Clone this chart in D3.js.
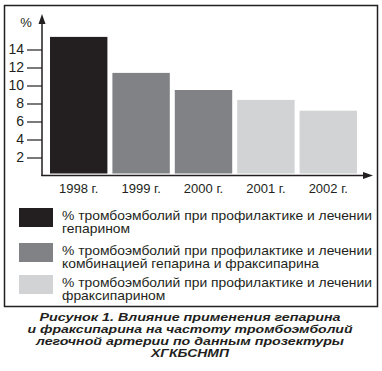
<!DOCTYPE html>
<html lang="ru">
<head>
<meta charset="UTF-8">
<title>Рисунок 1</title>
<script src="https://cdn.jsdelivr.net/npm/d3@7"></script>
<style>
  body { margin: 0; background: #fff; }
  svg text { font-family: "Liberation Sans", Arial, sans-serif; fill: #231f20; }
</style>
</head>
<body>
<svg id="chart" width="382" height="371"></svg>
<script>
// data
var years = ["1998 г.", "1999 г.", "2000 г.", "2001 г.", "2002 г."];
var values = [15.4, 11.4, 9.5, 8.4, 7.2];
var groups = [0, 1, 1, 2, 2];          // which legend entry each bar belongs to
var yTicks = [2, 4, 6, 8, 10, 12, 14];
var groupColors = ["#231f20", "#808285", "#d1d3d4"];
var legendLines = [
  ["% тромбоэмболий при профилактике и лечении", "гепарином"],
  ["% тромбоэмболий при профилактике и лечении", "комбинацией гепарина и фраксипарина"],
  ["% тромбоэмболий при профилактике и лечении", "фраксипарином"]
];
var caption = [
  "Рисунок 1. Влияние применения гепарина",
  "и фраксипарина на частоту тромбоэмболий",
  "легочной артерии по данным прозектуры",
  "ХГКБСНМП"
];
var captionWidths = [301, 325, 308, 78];

var svg = d3.select("#chart");

// outer frame
svg.append("rect")
  .attr("x", 4.5).attr("y", 5.5)
  .attr("width", 373).attr("height", 301)
  .attr("fill", "none").attr("stroke", "#231f20").attr("stroke-width", 1.5);

var x = d3.scaleBand().domain(years).range([50, 357]).paddingInner(0.08).paddingOuter(0);
var y = d3.scaleLinear().domain([0, 14]).range([175.5, 49.5]);

// bars (sit a little above the x axis)
svg.append("g").selectAll("rect")
  .data(values)
  .enter().append("rect")
  .attr("x", (d, i) => x(years[i]))
  .attr("y", d => y(d))
  .attr("width", x.bandwidth())
  .attr("height", d => y(0) - 2 - y(d))
  .attr("fill", (d, i) => groupColors[groups[i]]);

// y axis with ticks on the left
var yAxis = d3.axisLeft(y).tickValues(yTicks).tickSize(15).tickPadding(3);
var gy = svg.append("g").attr("transform", "translate(42,0)").call(yAxis);
gy.select(".domain").remove();
gy.selectAll(".tick line").attr("stroke", "#231f20").attr("stroke-width", 1.2);
gy.selectAll(".tick text").attr("font-size", 14).attr("font-family", "Liberation Sans, Arial, sans-serif").attr("fill", "#231f20");

// axis lines with arrows
svg.append("line").attr("x1", 42).attr("x2", 42).attr("y1", 176).attr("y2", 20)
  .attr("stroke", "#231f20").attr("stroke-width", 1.5);
svg.append("path").attr("d", "M42,14 L38.5,24 L45.5,24 Z").attr("fill", "#231f20");
svg.append("line").attr("x1", 41.3).attr("x2", 366).attr("y1", 175.5).attr("y2", 175.5)
  .attr("stroke", "#231f20").attr("stroke-width", 1.5);
svg.append("path").attr("d", "M373,175.5 L363,172 L363,179 Z").attr("fill", "#231f20");

svg.append("text").attr("x", 26).attr("y", 27).attr("text-anchor", "middle")
  .attr("font-size", 13).text("%");

// x labels
var xAxis = d3.axisBottom(x).tickSize(0).tickPadding(8);
var gx = svg.append("g").attr("transform", "translate(0,176)").call(xAxis);
gx.select(".domain").remove();
gx.selectAll(".tick text").attr("font-size", 13).attr("font-family", "Liberation Sans, Arial, sans-serif").attr("fill", "#231f20");

// legend
var legendY = [208, 243, 275];
var leg = svg.append("g").selectAll("g").data(legendLines).enter().append("g");
leg.append("rect")
  .attr("x", 19).attr("y", (d, i) => legendY[i])
  .attr("width", 34).attr("height", 19)
  .attr("fill", (d, i) => groupColors[i]);
var legText = leg.selectAll("text").data((d, i) => d.map(t => ({t: t, i: i})))
  .enter().append("text")
  .attr("x", 62)
  .attr("y", (d, j) => legendY[d.i] + 11.5 + j * 13.3)
  .attr("font-size", 11.9)
  .text(d => d.t);
// widen the legend type a little so the long line ends where the printed one does
var k = 310 / legText.node().getComputedTextLength();
legText.each(function() {
  d3.select(this).attr("textLength", this.getComputedTextLength() * k)
    .attr("lengthAdjust", "spacingAndGlyphs");
});

// caption (tight leading as in the print, stretched to the printed widths)
svg.append("g").selectAll("text").data(caption).enter().append("text")
  .attr("x", 190).attr("y", (d, i) => 320.5 + i * 12.2)
  .attr("text-anchor", "middle")
  .attr("font-size", 11.5).attr("font-weight", "bold").attr("font-style", "italic")
  .attr("textLength", (d, i) => captionWidths[i])
  .attr("lengthAdjust", "spacingAndGlyphs")
  .text(d => d);
</script>
</body>
</html>
